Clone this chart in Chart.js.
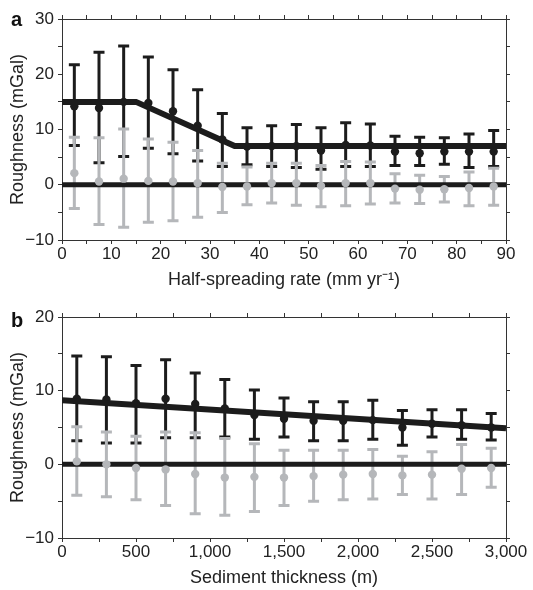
<!DOCTYPE html>
<html>
<head>
<meta charset="utf-8">
<script src="https://cdn.jsdelivr.net/npm/chart.js@4.4.1/dist/chart.umd.min.js"></script>
<style>
    body { margin: 0; background: #fff; }
    canvas { display: block; }
</style>
</head>
<body>
<canvas id="chartA" width="533" height="295"></canvas>
<canvas id="chartB" width="533" height="295"></canvas>
<script>
// panel a: roughness vs half-spreading rate
const rateX = [2.5, 7.5, 12.5, 17.5, 22.5, 27.5, 32.5, 37.5, 42.5, 47.5, 52.5, 57.5, 62.5, 67.5, 72.5, 77.5, 82.5, 87.5];
const rateBlack = [14.2, 13.9, 15.0, 14.8, 13.3, 10.7, 8.2, 6.9, 7.0, 7.0, 6.2, 7.2, 7.1, 6.0, 5.7, 6.0, 6.0, 6.0];
const rateBlackLo = [7.1, 4.0, 5.1, 6.6, 5.6, 4.3, 3.3, 3.6, 3.3, 3.1, 2.8, 3.3, 3.3, 3.5, 3.5, 3.7, 3.1, 3.3];
const rateBlackHi = [21.7, 24.0, 25.1, 23.1, 20.8, 17.2, 12.9, 10.3, 10.7, 10.9, 10.3, 11.2, 11.0, 8.8, 8.6, 8.5, 9.2, 9.8];
const rateGrey = [2.1, 0.6, 1.1, 0.7, 0.6, 0.3, -0.4, -0.3, 0.3, 0.3, -0.2, 0.3, 0.3, -0.7, -0.9, -0.8, -0.6, -0.3];
const rateGreyLo = [-4.3, -7.2, -7.7, -6.8, -6.5, -5.9, -5.0, -3.6, -3.3, -3.7, -4.0, -3.8, -3.5, -3.3, -3.4, -3.1, -3.8, -3.7];
const rateGreyHi = [8.6, 8.5, 10.1, 8.3, 7.7, 6.2, 3.9, 3.2, 3.9, 3.9, 3.5, 4.2, 4.1, 2.0, 1.7, 1.5, 2.3, 3.0];
const rateModelX = [0, 15, 35, 90];
const rateModelY = [15, 15, 7, 7];

// panel b: roughness vs sediment thickness
const sedX = [100, 300, 500, 700, 900, 1100, 1300, 1500, 1700, 1900, 2100, 2300, 2500, 2700, 2900];
const sedBlack = [8.9, 8.8, 8.3, 8.9, 8.2, 7.6, 6.7, 6.2, 5.9, 5.9, 6.0, 5.0, 5.5, 5.3, 5.0];
const sedBlackLo = [3.2, 2.9, 2.9, 3.6, 3.6, 3.7, 3.4, 3.7, 3.2, 3.2, 3.4, 2.6, 3.7, 3.4, 3.3];
const sedBlackHi = [14.7, 14.6, 13.4, 14.2, 12.4, 11.5, 10.1, 9.0, 8.5, 8.5, 8.7, 7.3, 7.4, 7.4, 6.9];
const sedGrey = [0.4, 0.0, -0.5, -0.7, -1.3, -1.8, -1.7, -1.8, -1.6, -1.4, -1.3, -1.5, -1.4, -0.6, -0.5];
const sedGreyLo = [-4.2, -4.4, -4.8, -5.6, -6.7, -6.9, -6.4, -5.6, -5.0, -4.8, -4.7, -4.1, -4.7, -4.1, -3.1];
const sedGreyHi = [5.1, 4.4, 3.8, 4.4, 4.3, 3.5, 2.8, 1.9, 1.9, 1.9, 2.0, 1.1, 1.7, 2.7, 2.2];
const sedModelX = [0, 3000];
const sedModelY = [8.7, 4.9];

const BLACK = '#1c1c1c';
const GREY = '#b5b7ba';
const AXIS = '#333';
const FAMILY = '"Liberation Sans", Arial, Helvetica, sans-serif';
const TICK_FONT = { family: FAMILY, size: 17 };
const TITLE_FONT = { family: FAMILY, size: 18 };

// error bars drawn just before the dataset that carries them
const errorBarPlugin = {
    id: 'errorBars',
    beforeDatasetDraw(chart, args) {
        const ds = chart.data.datasets[args.index];
        if (!ds.errorBars) return;
        const { xs, lo, hi, color } = ds.errorBars;
        const xScale = chart.scales.x;
        const yScale = chart.scales.y;
        const ctx = chart.ctx;
        ctx.save();
        ctx.strokeStyle = color;
        ctx.lineWidth = 3;
        xs.forEach((x, i) => {
            const px = xScale.getPixelForValue(x);
            const pLo = yScale.getPixelForValue(lo[i]);
            const pHi = yScale.getPixelForValue(hi[i]);
            ctx.beginPath();
            ctx.moveTo(px, pLo); ctx.lineTo(px, pHi);
            ctx.moveTo(px - 5.5, pLo); ctx.lineTo(px + 5.5, pLo);
            ctx.moveTo(px - 5.5, pHi); ctx.lineTo(px + 5.5, pHi);
            ctx.stroke();
        });
        ctx.restore();
    }
};

const panelLabelPlugin = {
    id: 'panelLabel',
    afterDraw(chart, args, opts) {
        const ctx = chart.ctx;
        ctx.save();
        ctx.font = 'bold 20px ' + FAMILY;
        ctx.fillStyle = '#111';
        ctx.textBaseline = 'alphabetic';
        ctx.fillText(opts.text, opts.x, opts.y);
        ctx.restore();
    }
};

const toPoints = (xs, ys) => xs.map((x, i) => ({ x, y: ys[i] }));

const RoughnessPage = {
    charts: [],

    init() {
        this.charts.push(this.renderPanel('chartA', {
            label: 'a', labelY: 26,
            xs: rateX, black: rateBlack, blackLo: rateBlackLo, blackHi: rateBlackHi,
            grey: rateGrey, greyLo: rateGreyLo, greyHi: rateGreyHi,
            modelX: rateModelX, modelY: rateModelY,
            xMin: 0, xMax: 90, xStep: 5, xLabelEvery: 10,
            yMin: -10, yMax: 30,
            xTitle: 'Half-spreading rate (mm yr\u207B\u00B9)',
            top: 19, bottom: 55, titlePad: 4
        }));
        this.charts.push(this.renderPanel('chartB', {
            label: 'b', labelY: 32,
            xs: sedX, black: sedBlack, blackLo: sedBlackLo, blackHi: sedBlackHi,
            grey: sedGrey, greyLo: sedGreyLo, greyHi: sedGreyHi,
            modelX: sedModelX, modelY: sedModelY,
            xMin: 0, xMax: 3000, xStep: 250, xLabelEvery: 500,
            yMin: -10, yMax: 20,
            xTitle: 'Sediment thickness (m)',
            top: 22, bottom: 52, titlePad: 1
        }));
    },

    tickLabel(v, every) {
        if (Math.round(v) % every !== 0) return '';
        const s = Math.abs(v).toLocaleString('en-US');
        return v < 0 ? '\u2212' + s : s;
    },

    axisBase(pos) {
        return {
            type: 'linear',
            position: pos,
            grid: { display: true, drawOnChartArea: false, drawTicks: true, tickLength: 4, color: AXIS, lineWidth: 1 },
            border: { display: true, color: AXIS, width: 1 }
        };
    },

    renderPanel(id, p) {
        const xTicks = { stepSize: p.xStep, autoSkip: false, maxRotation: 0, font: TICK_FONT, color: '#222', padding: 0,
            callback: (v) => this.tickLabel(v, p.xLabelEvery) };
        const yTicks = { stepSize: 5, autoSkip: false, font: TICK_FONT, color: '#222', padding: 4,
            callback: (v) => this.tickLabel(v, 10) };

        return new Chart(document.getElementById(id), {
            type: 'scatter',
            data: {
                datasets: [
                    {
                        // grey points on top
                        data: toPoints(p.xs, p.grey),
                        backgroundColor: GREY, borderWidth: 0, pointRadius: 4.2, order: 0
                    },
                    {
                        data: [{ x: p.xMin, y: 0 }, { x: p.xMax, y: 0 }],
                        showLine: true, borderColor: BLACK, borderWidth: 5, pointRadius: 0, order: 1,
                        errorBars: { xs: p.xs, lo: p.greyLo, hi: p.greyHi, color: GREY }
                    },
                    {
                        data: toPoints(p.modelX, p.modelY),
                        showLine: true, borderColor: BLACK, borderWidth: 6, pointRadius: 0, order: 2
                    },
                    {
                        data: toPoints(p.xs, p.black),
                        backgroundColor: BLACK, borderWidth: 0, pointRadius: 4.2, order: 3,
                        errorBars: { xs: p.xs, lo: p.blackLo, hi: p.blackHi, color: BLACK }
                    }
                ]
            },
            options: {
                responsive: false,
                animation: false,
                layout: { padding: 0 },
                plugins: {
                    legend: { display: false },
                    tooltip: { enabled: false },
                    panelLabel: { text: p.label, x: 11, y: p.labelY }
                },
                scales: {
                    x: {
                        ...this.axisBase('bottom'),
                        min: p.xMin, max: p.xMax, ticks: xTicks,
                        title: { display: true, text: p.xTitle, font: TITLE_FONT, color: '#222', padding: { top: 0, bottom: p.titlePad } },
                        afterFit: (s) => { s.height = p.bottom; }
                    },
                    x2: {
                        ...this.axisBase('top'),
                        min: p.xMin, max: p.xMax,
                        ticks: { ...xTicks, display: false },
                        afterFit: (s) => { s.height = p.top; }
                    },
                    y: {
                        ...this.axisBase('left'),
                        min: p.yMin, max: p.yMax, ticks: yTicks,
                        title: { display: true, text: 'Roughness (mGal)', font: TITLE_FONT, color: '#222', padding: { top: 7, bottom: 0 } },
                        afterFit: (s) => { s.width = 62; }
                    },
                    y2: {
                        ...this.axisBase('right'),
                        min: p.yMin, max: p.yMax,
                        ticks: { ...yTicks, display: false },
                        afterFit: (s) => { s.width = 27; }
                    }
                }
            },
            plugins: [errorBarPlugin, panelLabelPlugin]
        });
    }
};

RoughnessPage.init();
</script>
</body>
</html>
